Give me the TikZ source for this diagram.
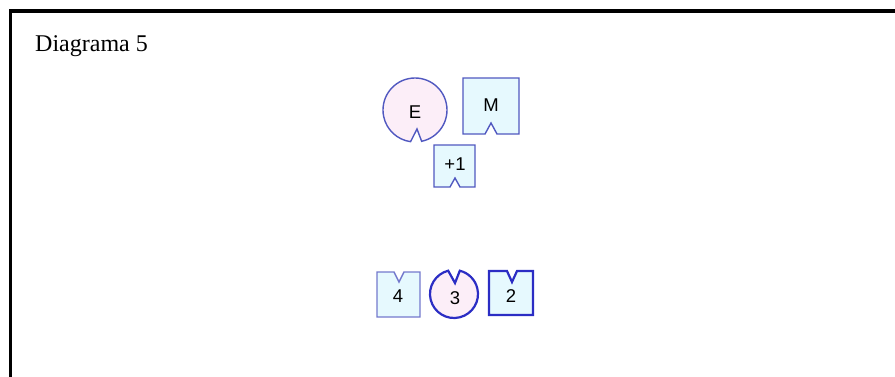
\documentclass[tikz,border=0pt]{standalone}
\usepackage{fontspec}
\setmainfont{Liberation Serif}
\setsansfont{Liberation Sans}

\definecolor{rimblue}{HTML}{5058C0}
\definecolor{darkrim}{HTML}{2B2DC4}
\definecolor{pinkfill}{HTML}{FCEEF8}
\definecolor{cyanfill}{HTML}{E6F9FE}

\begin{document}
\begin{tikzpicture}[
    x=1pt, y=1pt,
    every node/.style={font=\sffamily\fontsize{18.5}{20}\selectfont, inner sep=0pt},
    % Stijl voor vierkante tegels
    tile/.style={draw=rimblue, line width=1.4pt, fill=cyanfill, line join=miter},
    % Stijl voor ronde schijven
    disc/.style={draw=rimblue, line width=1.4pt, fill=pinkfill},
    bold/.style={draw=darkrim, line width=2.2pt},
    frame/.style={line width=3pt, black}
]
\useasboundingbox (0,0) rectangle (895,376);

% --- Kader en titel ---
\draw[frame] (10,-2) -- (10,365) -- (897,365);
\node[anchor=base west, font=\rmfamily\fontsize{24}{26}\selectfont] (title) at (35,325) {Diagrama 5};

% --- Bovenste groep ---
\draw[disc] ([shift={(415,266)}]282:32) arc[start angle=282, end angle=622, radius=32] -- (417,247) -- cycle;
\node (e) at (415,264) {E};

\draw[tile] (463,298) -- (519,298) -- (519,242) -- (497,242) -- (491,253) -- (485,242) -- (463,242) -- cycle;
\node (m) at (491,271) {M};

\draw[tile] (434,231) -- (475,231) -- (475,189) -- (460,189) -- (455,198) -- (450,189) -- (434,189) -- cycle;
\node (plusone) at (455,212) {+1};

% --- Onderste groep ---
\draw[tile, draw=rimblue!80] (377,59) -- (377,104) -- (394,104) -- (399,94) -- (404,104) -- (420,104) -- (420,59) -- cycle;
\node (four) at (398,80) {4};

\draw[disc, bold] ([shift={(454,82)}]104:24) arc[start angle=104, end angle=436, radius=24] -- (455,93) -- cycle;
\node (three) at (455,78) {3};

\draw[tile, bold] (489,61) -- (489,105) -- (507,105) -- (512,94) -- (517,105) -- (533,105) -- (533,61) -- cycle;
\node (two) at (511,80) {2};

\end{tikzpicture}
\end{document}
